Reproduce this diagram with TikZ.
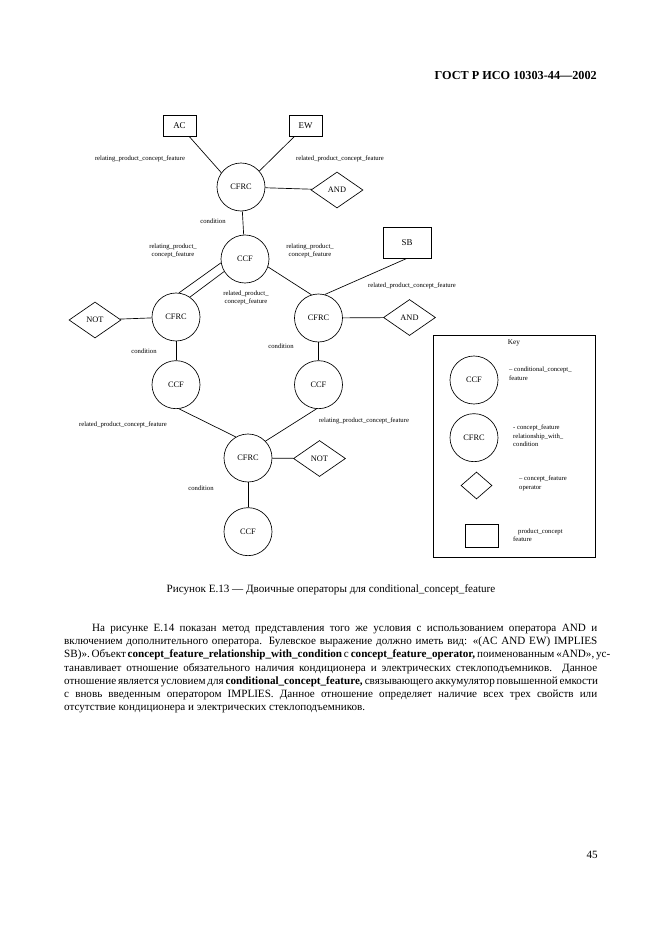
\documentclass[tikz,border=0pt]{standalone}
\usepackage{fontspec}
\setmainfont{Liberation Serif}
\usetikzlibrary{positioning,shapes.geometric}

\newcommand{\fullline}[1]{\makebox[479.7pt][s]{#1}}

\begin{document}
\begin{tikzpicture}[x=0.9pt, y=-0.9pt,
    main/.style = {circle, draw, line width=0.6pt, minimum size=43.2pt, inner sep=0pt, font=\fontsize{7.5}{8}\selectfont},
    op/.style = {diamond, draw, line width=0.6pt, minimum width=46.8pt, minimum height=32.4pt, inner sep=0pt, font=\fontsize{7.5}{8}\selectfont},
    feat/.style = {rectangle, draw, line width=0.6pt, minimum width=29.7pt, minimum height=18.9pt, inner sep=0pt, font=\fontsize{8}{9}\selectfont},
    lab/.style = {align=center, inner sep=0pt, font=\fontsize{6}{7.2}\selectfont},
    keytxt/.style = {align=left, anchor=west, inner sep=0pt, font=\fontsize{6}{7.6}\selectfont},
    every edge/.style = {draw, line width=0.6pt}]

    \useasboundingbox (0,0) rectangle (661,936);

    \node[anchor=base east, inner sep=0pt, font=\fontsize{11}{13}\bfseries\selectfont] (title) at (597,79.5) {ГОСТ Р ИСО 10303-44—2002};

    \node[feat] (1) at (179.5,125.5) {AC};
    \node[feat] (2) at (305.5,125.5) {EW};
    \node[main] (3) at (241,187) {CFRC};
    \node[op] (4) at (337,190) {AND};
    \node[main] (5) at (245,259) {CCF};
    \node[feat, minimum width=43.2pt, minimum height=27.9pt] (6) at (407,242.5) {SB};

    \node[main] (7) at (176,317) {CFRC};
    \node[op] (8) at (95,320) {NOT};
    \node[main] (9) at (318.5,318) {CFRC};
    \node[op] (10) at (409.5,317.5) {AND};
    \node[main] (11) [below=17.1pt of 7] {CCF};
    \node[main] (12) [below=16.2pt of 9] {CCF};

    \node[main] (13) at (248,458) {CFRC};
    \node[op] (14) at (319.5,458.5) {NOT};
    \node[main] (15) [below=22.5pt of 13] {CCF};

    \path (1) edge (3.144);
    \path (2) edge (3.41);
    \path (3) edge (4);
    \path (3) edge (5);
    \path (5.189) edge (7.83);
    \path (5.211) edge (7.55);
    \path (5.-19) edge (9.107);
    \path (6.south) edge (9.75);
    \path (7) edge (8);
    \path (9) edge (10);
    \path (7) edge (11);
    \path (9) edge (12);
    \path (11.-83) edge (13.120);
    \path (12.-95) edge (13.44);
    \path (13) edge (14);
    \path (13) edge (15);

    \node[lab] at (140,159) {relating\_product\_concept\_feature};
    \node[lab] at (340,159) {related\_product\_concept\_feature};
    \node[lab] at (213,221) {condition};
    \node[lab] at (173,251) {relating\_product\_\\concept\_feature};
    \node[lab] at (310,251) {relating\_product\_\\concept\_feature};
    \node[lab] at (412,286) {related\_product\_concept\_feature};
    \node[lab] at (246,297.5) {related\_product\_\\concept\_feature};
    \node[lab] at (144,351) {condition};
    \node[lab] at (281,346) {condition};
    \node[lab] at (123,425) {related\_product\_concept\_feature};
    \node[lab] at (364,421) {relating\_product\_concept\_feature};
    \node[lab] at (201,488) {condition};

    \node[draw, line width=0.6pt, minimum width=145.8pt, minimum height=199.8pt, inner sep=0pt] (key) at (514,446) {};
    \node[lab, font=\fontsize{6.5}{7}\selectfont] at (514,343) {Key};
    \node[main] (k1) at (474,380) {CCF};
    \node[main] (k2) [below=8.1pt of k1] {CFRC};
    \node[op, minimum width=27.9pt, minimum height=24.3pt] (k3) at (476.5,485.5) {};
    \node[feat, minimum width=29.7pt, minimum height=20.7pt] (k4) at (481.5,535.5) {};
    \node[keytxt] at (509,373.5) {-- conditional\_concept\_\\feature};
    \node[keytxt] at (513,436) {- concept\_feature\\relationship\_with\_\\condition};
    \node[keytxt] at (519,483.5) {-- concept\_feature\\operator};
    \node[keytxt] at (513,535) {\hspace{4.5pt}product\_concept\\feature};

    \node[font=\fontsize{10}{12}\selectfont, inner sep=0pt] (caption) at (331,590) {Рисунок Е.13 — Двоичные операторы для conditional\_concept\_feature};

    \node[anchor=north west, inner sep=0pt, align=left, font=\fontsize{10}{11.9}\selectfont] (body) at (64,622) {%
        \strut\fullline{\hspace*{25pt}На рисунке Е.14 показан метод представления того же условия с использованием оператора AND и}\\
        \fullline{включением дополнительного оператора. Булевское выражение должно иметь вид: «(AC AND EW) IMPLIES}\\
        \fullline{SB)». Объект \textbf{concept\_feature\_relationship\_with\_condition} с \textbf{concept\_feature\_operator,} поименованным «AND», ус-}\\
        \fullline{танавливает отношение обязательного наличия кондиционера и электрических стеклоподъемников. Данное}\\
        \fullline{отношение является условием для \textbf{conditional\_concept\_feature,} связывающего аккумулятор повышенной емкости}\\
        \fullline{с вновь введенным оператором IMPLIES. Данное отношение определяет наличие всех трех свойств или}\\
        отсутствие кондиционера и электрических стеклоподъемников.};

    \node[anchor=base east, inner sep=0pt, font=\fontsize{10}{12}\selectfont] (page) at (598,858.5) {45};
\end{tikzpicture}
\end{document}
